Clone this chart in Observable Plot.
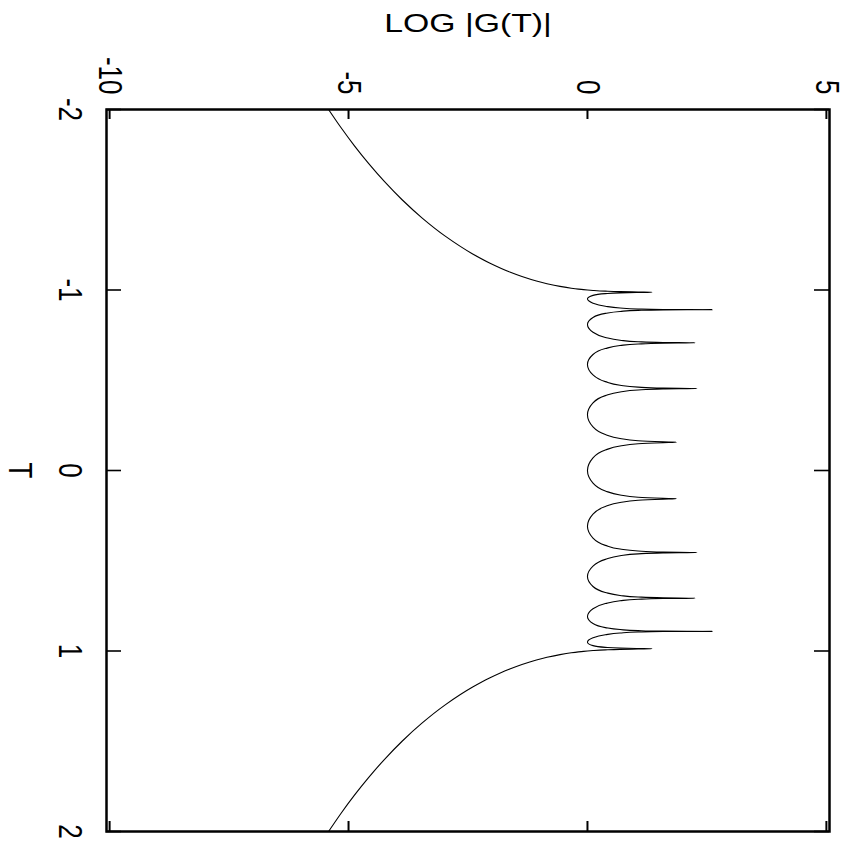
<!DOCTYPE html>
<html>
<head>
<meta charset="utf-8">
<script src="https://cdn.jsdelivr.net/npm/d3@7"></script>
<script src="https://cdn.jsdelivr.net/npm/@observablehq/plot@0.6"></script>
<style>
  html, body { margin: 0; padding: 0; background: #fff; }
</style>
</head>
<body>
<div id="chart"></div>
<script>
// Axis ticks
const logTicks = [-10, -5, 0, 5];
const tTicks = [-2, -1, 0, 1, 2];

// Curve samples as [T, log|G(T)|]
const leftTail = [
  [-2, -5.418], [-1.9, -5.159], [-1.8, -4.880], [-1.7, -4.577], [-1.6, -4.246],
  [-1.5, -3.879], [-1.4, -3.464], [-1.3, -2.984], [-1.2, -2.402], [-1.15, -2.049],
  [-1.1, -1.626], [-1.075, -1.371], [-1.05, -1.068], [-1.035, -0.847], [-1.02, -0.574],
  [-1.01, -0.338], [-1.005, -0.188], [-1.002, -0.082]
];

const innerLobes = [
  [-1, 0], [-0.997564, 0.1157], [-0.993572, 0.374], [-0.990748, 0.682], [-0.989016, 1.060],
  [-0.987688, 1.35],
  [-0.986286, 1.060], [-0.984196, 0.682], [-0.979925, 0.374], [-0.970296, 0.1157], [-0.951057, 0],
  [-0.927184, 0.1157], [-0.909961, 0.374], [-0.900319, 0.682], [-0.894934, 1.060], [-0.892183, 1.582],
  [-0.891007, 2.61],
  [-0.889815, 1.582], [-0.887011, 1.060], [-0.881303, 0.682], [-0.870356, 0.374], [-0.848048, 0.1157],
  [-0.809017, 0],
  [-0.766044, 0.1157], [-0.737277, 0.374], [-0.721760, 0.682], [-0.713251, 1.060], [-0.708956, 1.582],
  [-0.707107, 2.25],
  [-0.705254, 1.582], [-0.700909, 1.060], [-0.692144, 0.682], [-0.675590, 0.374], [-0.642788, 0.1157],
  [-0.587785, 0],
  [-0.529919, 0.1157], [-0.492424, 0.374], [-0.472551, 0.682], [-0.461749, 1.060], [-0.456322, 1.582],
  [-0.453990, 2.29],
  [-0.451656, 1.582], [-0.446198, 1.060], [-0.435231, 0.682], [-0.414693, 0.374], [-0.374607, 0.1157],
  [-0.309017, 0],
  [-0.241922, 0.1157], [-0.199368, 0.374], [-0.177085, 0.682], [-0.165048, 1.060], [-0.159020, 1.582],
  [-0.156434, 1.86],
  [-0.153848, 1.582], [-0.147809, 1.060], [-0.135716, 0.682], [-0.113203, 0.374], [-0.069756, 0.1157],
  [0, 0],
  [0.069756, 0.1157], [0.113203, 0.374], [0.135716, 0.682], [0.147809, 1.060], [0.153848, 1.582],
  [0.156434, 1.86],
  [0.159020, 1.582], [0.165048, 1.060], [0.177085, 0.682], [0.199368, 0.374], [0.241922, 0.1157],
  [0.309017, 0],
  [0.374607, 0.1157], [0.414693, 0.374], [0.435231, 0.682], [0.446198, 1.060], [0.451656, 1.582],
  [0.453990, 2.29],
  [0.456322, 1.582], [0.461749, 1.060], [0.472551, 0.682], [0.492424, 0.374], [0.529919, 0.1157],
  [0.587785, 0],
  [0.642788, 0.1157], [0.675590, 0.374], [0.692144, 0.682], [0.700909, 1.060], [0.705254, 1.582],
  [0.707107, 2.25],
  [0.708956, 1.582], [0.713251, 1.060], [0.721760, 0.682], [0.737277, 0.374], [0.766044, 0.1157],
  [0.809017, 0],
  [0.848048, 0.1157], [0.870356, 0.374], [0.881303, 0.682], [0.887011, 1.060], [0.889815, 1.582],
  [0.891007, 2.61],
  [0.892183, 1.582], [0.894934, 1.060], [0.900319, 0.682], [0.909961, 0.374], [0.927184, 0.1157],
  [0.951057, 0],
  [0.970296, 0.1157], [0.979925, 0.374], [0.984196, 0.682], [0.986286, 1.060],
  [0.987688, 1.35],
  [0.989016, 1.060], [0.990748, 0.682], [0.993572, 0.374], [0.997564, 0.1157], [1, 0]
];

const rightTail = [
  [1.002, -0.082], [1.005, -0.188], [1.01, -0.338], [1.02, -0.574], [1.035, -0.847],
  [1.05, -1.068], [1.075, -1.371], [1.1, -1.626], [1.15, -2.049], [1.2, -2.402],
  [1.3, -2.984], [1.4, -3.464], [1.5, -3.879], [1.6, -4.246], [1.7, -4.577],
  [1.8, -4.880], [1.9, -5.159], [2, -5.418]
];

const curve = [...leftTail, ...innerLobes, ...rightTail].map(([t, g]) => ({t, g}));

const W = 846, H = 842;
const mTop = 109, mBottom = 11, mLeft = 106, mRight = 17;
const frameW = W - mLeft - mRight, frameH = H - mTop - mBottom;
const font = "Liberation Sans, Arial, Helvetica, sans-serif";
const fs = 26;

const chart = Plot.plot({
  width: W,
  height: H,
  marginTop: mTop,
  marginBottom: mBottom,
  marginLeft: mLeft,
  marginRight: mRight,
  style: {background: "#fff", fontFamily: font, color: "#000"},
  x: {domain: [-10.065, 5.065], axis: null},
  y: {domain: [-2, 2], reverse: true, axis: null},
  marks: [
    // inward ticks on all four sides
    Plot.tickX(logTicks, {x: d => d, insetBottom: frameH - 10, stroke: "#000", strokeWidth: 2}),
    Plot.tickX(logTicks, {x: d => d, insetTop: frameH - 10, stroke: "#000", strokeWidth: 2}),
    Plot.tickY(tTicks, {y: d => d, insetRight: frameW - 15, stroke: "#000", strokeWidth: 1.6}),
    Plot.tickY(tTicks, {y: d => d, insetLeft: frameW - 15, stroke: "#000", strokeWidth: 1.6}),
    Plot.line(curve, {x: "g", y: "t", curve: "monotone-y", stroke: "#000", strokeWidth: 1.1}),
    Plot.frame({stroke: "#000", strokeWidth: 2.5}),
    // value tick labels above the frame
    Plot.text(logTicks, {
      x: d => d, text: d => String(d), frameAnchor: "top", dy: -15,
      rotate: 90, textAnchor: "end", lineAnchor: "middle",
      fontSize: fs, fill: "#000", className: "lbl"
    }),
    // T tick labels left of the frame
    Plot.text(tTicks, {
      y: d => d, text: d => String(d), frameAnchor: "left", dx: -36.5,
      rotate: 90, textAnchor: "middle", lineAnchor: "middle",
      fontSize: fs, fill: "#000", className: "lbl"
    }),
    // axis titles
    Plot.text(["T"], {
      text: d => d, frameAnchor: "left", dx: -86.5,
      rotate: 90, textAnchor: "middle", lineAnchor: "middle",
      fontSize: fs, fill: "#000", className: "lbl"
    }),
    Plot.text(["LOG |G(T)|"], {
      text: d => d, frameAnchor: "top", dy: -85.5,
      textAnchor: "middle", lineAnchor: "middle",
      fontSize: fs, fill: "#000", className: "lbl"
    })
  ]
});

// widen the lettering horizontally
const sx = 1.3;
d3.select(chart).selectAll("g.lbl text").each(function () {
  const el = d3.select(this);
  const tr = el.attr("transform") || "";
  const m = tr.match(/translate\([^)]*\)/);
  if (m) {
    el.attr("transform", tr.replace(m[0], `${m[0]} scale(${sx},1)`));
  } else {
    const x = +el.attr("x") || 0;
    el.attr("x", x / sx).attr("transform", `scale(${sx},1) ${tr}`);
  }
});

document.getElementById("chart").appendChild(chart);
</script>
</body>
</html>
